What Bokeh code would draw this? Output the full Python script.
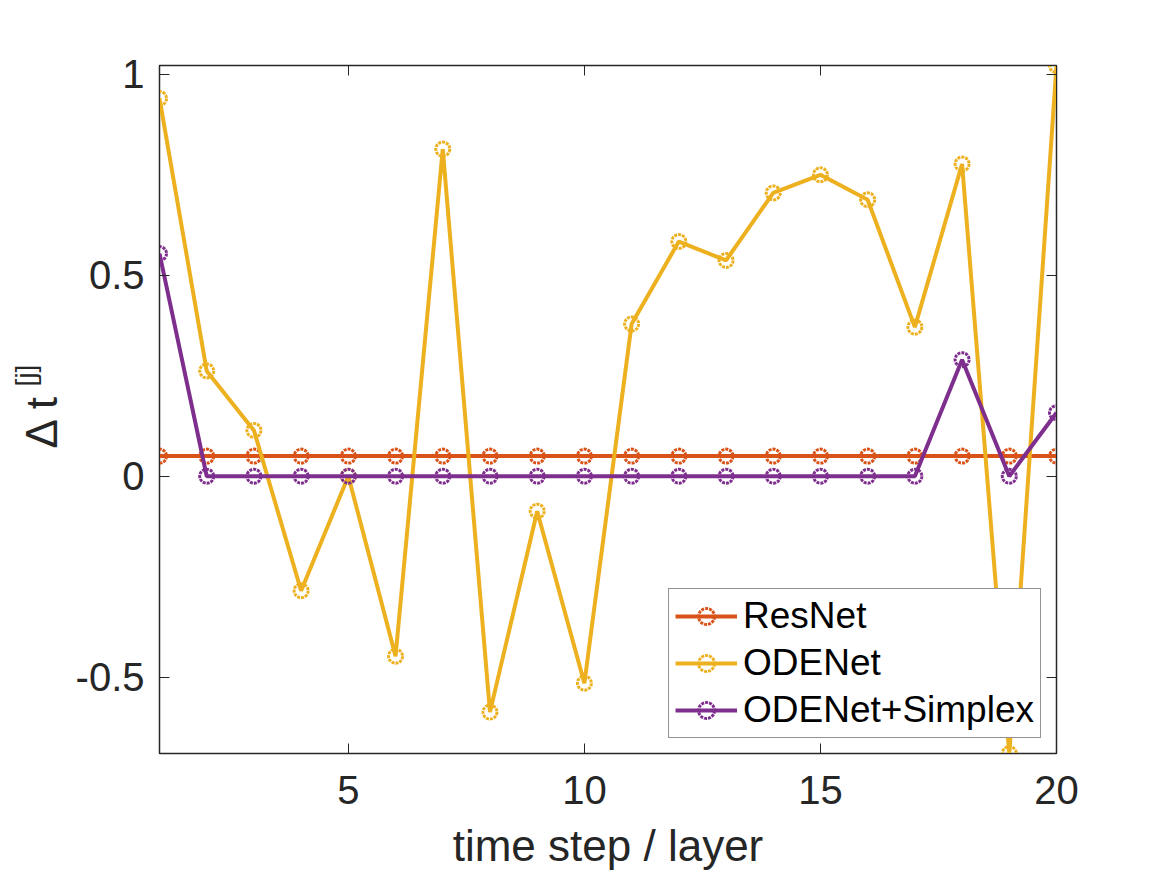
import numpy as np
from bokeh.plotting import figure
from bokeh.layouts import row
from bokeh.models import LinearAxis, FixedTicker, Label, Legend
from bokeh.embed import file_html
from bokeh.resources import INLINE

# ---- data ----
steps = list(range(1, 21))
resnet = [0.05] * 20
odenet = [0.94, 0.262, 0.114, -0.285, 0.0, -0.448, 0.814, -0.587, -0.087, -0.515,
          0.379, 0.584, 0.537, 0.705, 0.75, 0.688, 0.371, 0.777, -0.69, 1.022]
simplex = [0.554, 0.0, 0.0, 0.0, 0.0, 0.0, 0.0, 0.0, 0.0, 0.0,
           0.0, 0.0, 0.0, 0.0, 0.0, 0.0, 0.0, 0.29, 0.0, 0.158]
series_names = ["ResNet", "ODENet", "ODENet+Simplex"]
series_colors = ["#D95319", "#EDB120", "#7E2F8E"]
x_ticks = [5, 10, 15, 20]
y_ticks = [-0.5, 0, 0.5, 1]
y_tick_labels = {-0.5: "-0.5", 0: "0", 0.5: "0.5", 1: "1"}

FONT = "Liberation Sans"
TXT = "#262626"
H = 872
TOP, BOTTOM = 65, 115
FRAME_BOTTOM = H - BOTTOM  # page y of frame bottom

# ---- left strip holding the y-axis label (its frame is aligned with the main frame) ----
lab = figure(width=72, height=H, output_backend="svg", toolbar_location=None,
             x_range=(0, 1), y_range=(0, 1), min_border=0)
lab.axis.visible = False
lab.grid.visible = False
lab.outline_line_color = None
lab.add_layout(Label(x=41, y=FRAME_BOTTOM - 425, x_units="screen", y_units="screen", text="Δ t",
                     angle=np.pi / 2, text_align="center", text_baseline="middle",
                     text_font=FONT, text_font_size="44px", text_color=TXT))
lab.add_layout(Label(x=25, y=FRAME_BOTTOM - 379, x_units="screen", y_units="screen", text="[j]",
                     angle=np.pi / 2, text_align="center", text_baseline="middle",
                     text_font=FONT, text_font_size="28px", text_color=TXT))

# ---- main plot ----
p = figure(width=1078, height=H, output_backend="svg", toolbar_location=None,
           x_range=(1, 20), y_range=(-0.69, 1.022),
           min_border_left=87, min_border_right=94, min_border_top=TOP, min_border_bottom=BOTTOM)
p.xgrid.visible = False
p.ygrid.visible = False
p.outline_line_color = TXT
p.outline_line_width = 1.5

renderers = []
for ys, name, col in zip([resnet, odenet, simplex], series_names, series_colors):
    l = p.line(steps, ys, line_color=col, line_width=4)
    s = p.scatter(steps, ys, marker="circle", size=14, fill_color=None,
                  line_color=col, line_width=3, line_dash="3 1")
    renderers.append((name, [l, s]))

legend = Legend(items=renderers, location="bottom_right")
legend.label_text_font = FONT
legend.label_text_font_size = "37px"
legend.label_text_color = "black"
legend.glyph_width = 62
legend.glyph_height = 40
legend.label_height = 40
legend.spacing = 5
legend.padding = 6
legend.margin = 15
legend.label_standoff = 6
legend.border_line_color = TXT
legend.border_line_width = 1.2
legend.background_fill_alpha = 1.0
p.add_layout(legend, "center")

for ax in [p.xaxis[0], p.yaxis[0]]:
    ax.major_tick_in = 10
    ax.major_tick_out = 0
    ax.minor_tick_in = 0
    ax.minor_tick_out = 0
    ax.axis_line_color = TXT
    ax.major_tick_line_color = TXT
    ax.major_label_text_font = FONT
    ax.major_label_text_font_size = "40px"
    ax.major_label_text_color = TXT
    ax.axis_label_text_font = FONT
    ax.axis_label_text_font_style = "normal"
    ax.axis_label_text_font_size = "44px"
    ax.axis_label_text_color = TXT

p.xaxis[0].ticker = FixedTicker(ticks=x_ticks)
p.yaxis[0].ticker = FixedTicker(ticks=y_ticks)
p.yaxis[0].major_label_overrides = y_tick_labels
p.xaxis[0].axis_label = "time step / layer"
p.xaxis[0].major_label_standoff = 22
p.xaxis[0].axis_label_standoff = 14
p.yaxis[0].major_label_standoff = 15

# mirrored tick axes (box ticks)
top = LinearAxis(ticker=FixedTicker(ticks=x_ticks), major_tick_in=10, major_tick_out=0,
                 minor_tick_in=0, minor_tick_out=0, major_label_text_color=None,
                 axis_line_color=TXT, major_tick_line_color=TXT)
right = LinearAxis(ticker=FixedTicker(ticks=y_ticks), major_tick_in=10, major_tick_out=0,
                   minor_tick_in=0, minor_tick_out=0, major_label_text_color=None,
                   axis_line_color=TXT, major_tick_line_color=TXT)
p.add_layout(top, "above")
p.add_layout(right, "right")

layout = row(lab, p)
open("out.html", "w").write(file_html(layout, INLINE))
